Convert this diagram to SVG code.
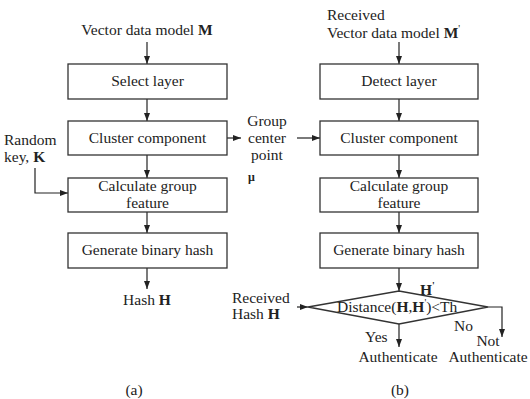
<svg xmlns="http://www.w3.org/2000/svg" width="530" height="399" viewBox="0 0 530 399">
<style>
  text { font-family: 'Liberation Serif', 'DejaVu Serif', serif; font-size: 15.5px; fill: #222; }
  .c { text-anchor: middle; }
  .b { font-weight: bold; }
  .sup { font-size: 10px; }
  .box { fill: #fff; stroke: #333; stroke-width: 1.3; }
  .ln { fill: none; stroke: #222; stroke-width: 1.2; }
</style>
<defs>
  <marker id="ah" viewBox="0 0 8 6" refX="8" refY="3" markerWidth="8" markerHeight="6" markerUnits="userSpaceOnUse" orient="auto">
    <path d="M0,0 L8,3 L0,6 Z" fill="#222"/>
  </marker>
</defs>
<rect width="530" height="399" fill="#fff"/>

<!-- Connectors -->
<g id="connectors">
  <!-- (a) -->
  <line class="ln" x1="147" y1="42" x2="147" y2="64" marker-end="url(#ah)"/>
  <line class="ln" x1="147" y1="99" x2="147" y2="121" marker-end="url(#ah)"/>
  <line class="ln" x1="147" y1="155" x2="147" y2="178" marker-end="url(#ah)"/>
  <line class="ln" x1="147" y1="212" x2="147" y2="233" marker-end="url(#ah)"/>
  <line class="ln" x1="147" y1="268" x2="147" y2="289" marker-end="url(#ah)"/>
  <polyline class="ln" points="35,168 35,193 68,193" marker-end="url(#ah)"/>
  <line class="ln" x1="227" y1="138" x2="241" y2="138" marker-end="url(#ah)"/>
  <!-- (b) -->
  <line class="ln" x1="297" y1="138" x2="320" y2="138" marker-end="url(#ah)"/>
  <line class="ln" x1="399" y1="42" x2="399" y2="64" marker-end="url(#ah)"/>
  <line class="ln" x1="399" y1="99" x2="399" y2="121" marker-end="url(#ah)"/>
  <line class="ln" x1="399" y1="155" x2="399" y2="178" marker-end="url(#ah)"/>
  <line class="ln" x1="399" y1="212" x2="399" y2="233" marker-end="url(#ah)"/>
  <line class="ln" x1="399" y1="268" x2="399" y2="291" marker-end="url(#ah)"/>
  <line class="ln" x1="297" y1="307" x2="308" y2="307" marker-end="url(#ah)"/>
  <line class="ln" x1="399" y1="324" x2="399" y2="347" marker-end="url(#ah)"/>
  <polyline class="ln" points="488,307 502,307 502,337" marker-end="url(#ah)"/>
</g>

<!-- Diagram (a): hash generation -->
<g id="a-input"><text class="c" x="147" y="35">Vector data model <tspan class="b">M</tspan></text></g>
<g id="a-select"><rect class="box" x="68" y="64" width="159" height="35"/><text class="c" x="147.5" y="86">Select layer</text></g>
<g id="a-cluster"><rect class="box" x="68" y="121" width="159" height="34"/><text class="c" x="147.5" y="143">Cluster component</text></g>
<g id="a-feature"><rect class="box" x="68" y="178" width="159" height="34"/><text class="c" x="147.5" y="191">Calculate group</text><text class="c" x="147.5" y="207.5">feature</text></g>
<g id="a-hash"><rect class="box" x="68" y="233" width="159" height="35"/><text class="c" x="147.5" y="255">Generate binary hash</text></g>
<g id="a-output"><text class="c" x="147" y="305">Hash <tspan class="b">H</tspan></text></g>
<g id="a-key"><text x="4" y="145">Random</text><text x="4" y="162">key, <tspan class="b">K</tspan></text></g>
<g id="center-point">
  <text class="c" x="267" y="126">Group</text>
  <text class="c" x="267" y="143">center</text>
  <text class="c" x="267" y="160">point</text>
  <text x="248" y="181" class="b" style="font-size:12px">μ</text>
</g>

<!-- Diagram (b): authentication -->
<g id="b-input"><text x="327" y="20">Received</text><text x="327" y="38">Vector data model <tspan class="b">M</tspan><tspan class="sup" dy="-6">'</tspan></text></g>
<g id="b-detect"><rect class="box" x="320" y="64" width="158" height="35"/><text class="c" x="399" y="86">Detect layer</text></g>
<g id="b-cluster"><rect class="box" x="320" y="121" width="158" height="34"/><text class="c" x="399" y="143">Cluster component</text></g>
<g id="b-feature"><rect class="box" x="320" y="178" width="158" height="34"/><text class="c" x="399" y="191">Calculate group</text><text class="c" x="399" y="207.5">feature</text></g>
<g id="b-hash"><rect class="box" x="320" y="233" width="158" height="35"/><text class="c" x="399" y="255">Generate binary hash</text></g>
<g id="b-hprime"><text x="420" y="295" class="b">H<tspan class="sup" dy="-6">'</tspan></text></g>
<g id="b-received"><text x="232" y="303">Received</text><text x="232" y="319">Hash <tspan class="b">H</tspan></text></g>
<g id="b-decision">
  <polygon class="box" points="308,307 399,291 488,307 399,324" style="fill:none"/>
  <text x="337" y="312">Distance(<tspan class="b">H</tspan>,<tspan class="b">H</tspan><tspan class="sup" dy="-6">'</tspan><tspan dy="6">)&lt;Th</tspan></text>
</g>
<g id="b-yes"><text x="365" y="342">Yes</text><text class="c" x="398" y="362">Authenticate</text></g>
<g id="b-no"><text x="454" y="331">No</text><text class="c" x="488" y="346">Not</text><text class="c" x="488" y="362">Authenticate</text></g>

<!-- Captions -->
<text class="c" x="134" y="395">(a)</text>
<text class="c" x="400" y="395">(b)</text>
</svg>
